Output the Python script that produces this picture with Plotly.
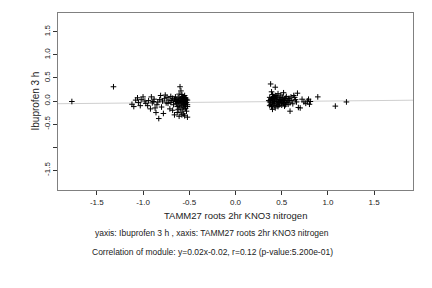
import plotly.graph_objects as go

# ---- data ----
left_x = [-1.77, -1.32,
          -1.12, -1.10, -1.08, -1.06, -1.05, -1.03, -1.02, -1.00, -0.98, -0.97, -0.95, -0.94, -0.92, -0.91,
          -0.90, -0.89, -0.88, -0.87, -0.86, -0.85, -0.84, -0.83, -0.82, -0.81, -0.80, -0.79, -0.78, -0.77,
          -0.76, -0.75,
          -0.74, -0.73, -0.72, -0.71, -0.70, -0.70, -0.69, -0.68, -0.68, -0.67, -0.66, -0.66, -0.65, -0.65,
          -0.64, -0.64, -0.63, -0.63, -0.62, -0.62, -0.62, -0.61, -0.61, -0.61, -0.60, -0.60, -0.60, -0.60,
          -0.59, -0.59, -0.59, -0.59, -0.58, -0.58, -0.58, -0.58, -0.57, -0.57, -0.57, -0.57, -0.56, -0.56,
          -0.56, -0.56, -0.56, -0.55, -0.55, -0.55, -0.55, -0.54, -0.54, -0.54, -0.54, -0.53, -0.53, -0.53,
          -0.52, -0.52, -0.52, -0.52, -0.63, -0.61, -0.58, -0.55]
left_y = [-0.01, 0.31,
          -0.07, -0.12, 0.02, 0.07, -0.03, -0.10, 0.03, 0.09, 0.00, -0.05, -0.10, 0.01, -0.17, 0.09,
          -0.04, -0.01, 0.04, -0.15, -0.25, -0.08, -0.02, -0.38, 0.03, 0.12, -0.13, 0.00, -0.27, 0.05,
          0.13, -0.04,
          0.08, -0.05, 0.02, -0.17, 0.10, -0.03, 0.01, -0.20, 0.06, -0.08, 0.04, -0.30, -0.01, 0.09,
          -0.05, 0.03, -0.12, 0.00, -0.18, 0.07, -0.03, 0.01, -0.09, -0.33, 0.31, -0.02, 0.05, -0.15,
          0.22, -0.06, 0.02, -0.24, 0.14, -0.01, 0.08, -0.11, 0.04, -0.04, -0.19, 0.10, 0.00, -0.07,
          0.06, -0.13, -0.28, 0.03, -0.02, -0.09, 0.12, -0.05, 0.01, -0.16, 0.07, -0.03, -0.22, 0.04,
          -0.35, -0.08, 0.02, -0.12, -0.25, 0.15, -0.30, -0.32]

right_x = [0.38, 0.43, 0.39, 0.40, 0.37, 0.38, 0.37, 0.38, 0.39, 0.40, 0.41, 0.41, 0.41, 0.42, 0.42,
           0.42, 0.43, 0.43, 0.44, 0.44, 0.45, 0.45, 0.45, 0.46, 0.46, 0.47, 0.47, 0.48, 0.48, 0.49,
           0.49, 0.50, 0.50, 0.51, 0.51, 0.52, 0.52, 0.53, 0.53, 0.54, 0.55, 0.55, 0.56, 0.57, 0.57,
           0.58, 0.59, 0.59, 0.60, 0.61, 0.62, 0.63, 0.64, 0.65, 0.66, 0.68, 0.72, 0.74, 0.76, 0.78,
           0.79, 0.80, 0.81, 0.89, 1.08, 1.20, 0.39, 0.40, 0.44, 0.46, 0.48, 0.50, 0.52, 0.47, 0.43,
           0.54, 0.58, 0.36, 0.37, 0.40, 0.67, 0.70]
right_y = [0.37, 0.30, 0.20, 0.14, 0.08, 0.03, -0.02, -0.07, -0.12, -0.18, 0.10, 0.02, -0.05, 0.06, -0.10,
           -0.01, 0.12, -0.15, 0.04, -0.04, 0.09, -0.08, 0.00, 0.16, -0.12, 0.03, -0.03, 0.07, -0.06, 0.01,
           0.13, -0.09, 0.04, -0.02, 0.08, 0.18, -0.05, 0.02, -0.11, 0.06, -0.03, 0.10, 0.00, -0.07, 0.05,
           0.02, -0.22, -0.04, 0.09, 0.01, -0.06, 0.12, 0.08, 0.03, -0.02, -0.14, 0.04, -0.02, -0.05, 0.00,
           0.04, -0.07, -0.01, 0.09, -0.11, -0.02, 0.05, -0.03, 0.11, -0.01, 0.03, -0.04, 0.01, -0.09, 0.07,
           -0.08, 0.06, 0.01, -0.10, 0.07, 0.17, -0.15]

slope = 0.02
intercept = -0.02
x_range = [-1.92, 1.92]
y_range = [-1.93, 1.91]
tick_vals = [-1.5, -1.0, -0.5, 0.0, 0.5, 1.0, 1.5]
x_tick_text = ["-1.5", "-1.0", "-0.5", "0.0", "0.5", "1.0", "1.5"]
y_tick_text = ["-1.5", "", "-0.5", "0.0", "0.5", "1.0", "1.5"]

x_title = "TAMM27 roots 2hr KNO3 nitrogen"
y_title = "Ibuprofen 3 h"
caption1 = "yaxis: Ibuprofen 3 h , xaxis: TAMM27 roots 2hr KNO3 nitrogen"
caption2 = "Correlation of module: y=0.02x-0.02, r=0.12 (p-value:5.200e-01)"

FONT = "Liberation Sans, Arial, sans-serif"

fig = go.Figure()
fig.add_trace(go.Scatter(
    x=x_range, y=[slope * v + intercept for v in x_range],
    mode="lines", line=dict(color="#cfcfcf", width=1), hoverinfo="skip"))
fig.add_trace(go.Scatter(
    x=left_x + right_x, y=left_y + right_y, mode="markers",
    marker=dict(symbol="cross-thin", size=4, color="black",
                line=dict(color="black", width=1))))

axis_common = dict(showgrid=False, zeroline=False, showline=True, mirror=True,
                   linecolor="#808080", linewidth=1, ticks="outside", ticklen=4,
                   tickcolor="#333333", tickfont=dict(family=FONT, size=8, color="#222222"))

fig.update_layout(
    width=432, height=288,
    margin=dict(l=58, r=19, t=13, b=98),
    paper_bgcolor="white", plot_bgcolor="white",
    showlegend=False,
    xaxis=dict(range=x_range, tickvals=tick_vals, ticktext=x_tick_text, **axis_common),
    yaxis=dict(range=y_range, tickvals=tick_vals, ticktext=y_tick_text, tickangle=-90, **axis_common),
    annotations=[
        dict(text=x_title, xref="paper", yref="paper", x=0.5, y=0, yanchor="middle",
             yshift=-25, showarrow=False, font=dict(family=FONT, size=9.5, color="#222222")),
        dict(text=y_title, xref="paper", yref="paper", x=0, y=0.5, xanchor="center",
             xshift=-23, textangle=-90, showarrow=False,
             font=dict(family=FONT, size=10, color="#222222")),
        dict(text=caption1, xref="paper", yref="paper", x=(212 - 58) / 355, y=0,
             yanchor="middle", yshift=-43, showarrow=False,
             font=dict(family=FONT, size=8.5, color="#222222")),
        dict(text=caption2, xref="paper", yref="paper", x=(212 - 58) / 355, y=0,
             yanchor="middle", yshift=-62, showarrow=False,
             font=dict(family=FONT, size=8.5, color="#222222")),
    ],
)

fig.write_html("out.html")
